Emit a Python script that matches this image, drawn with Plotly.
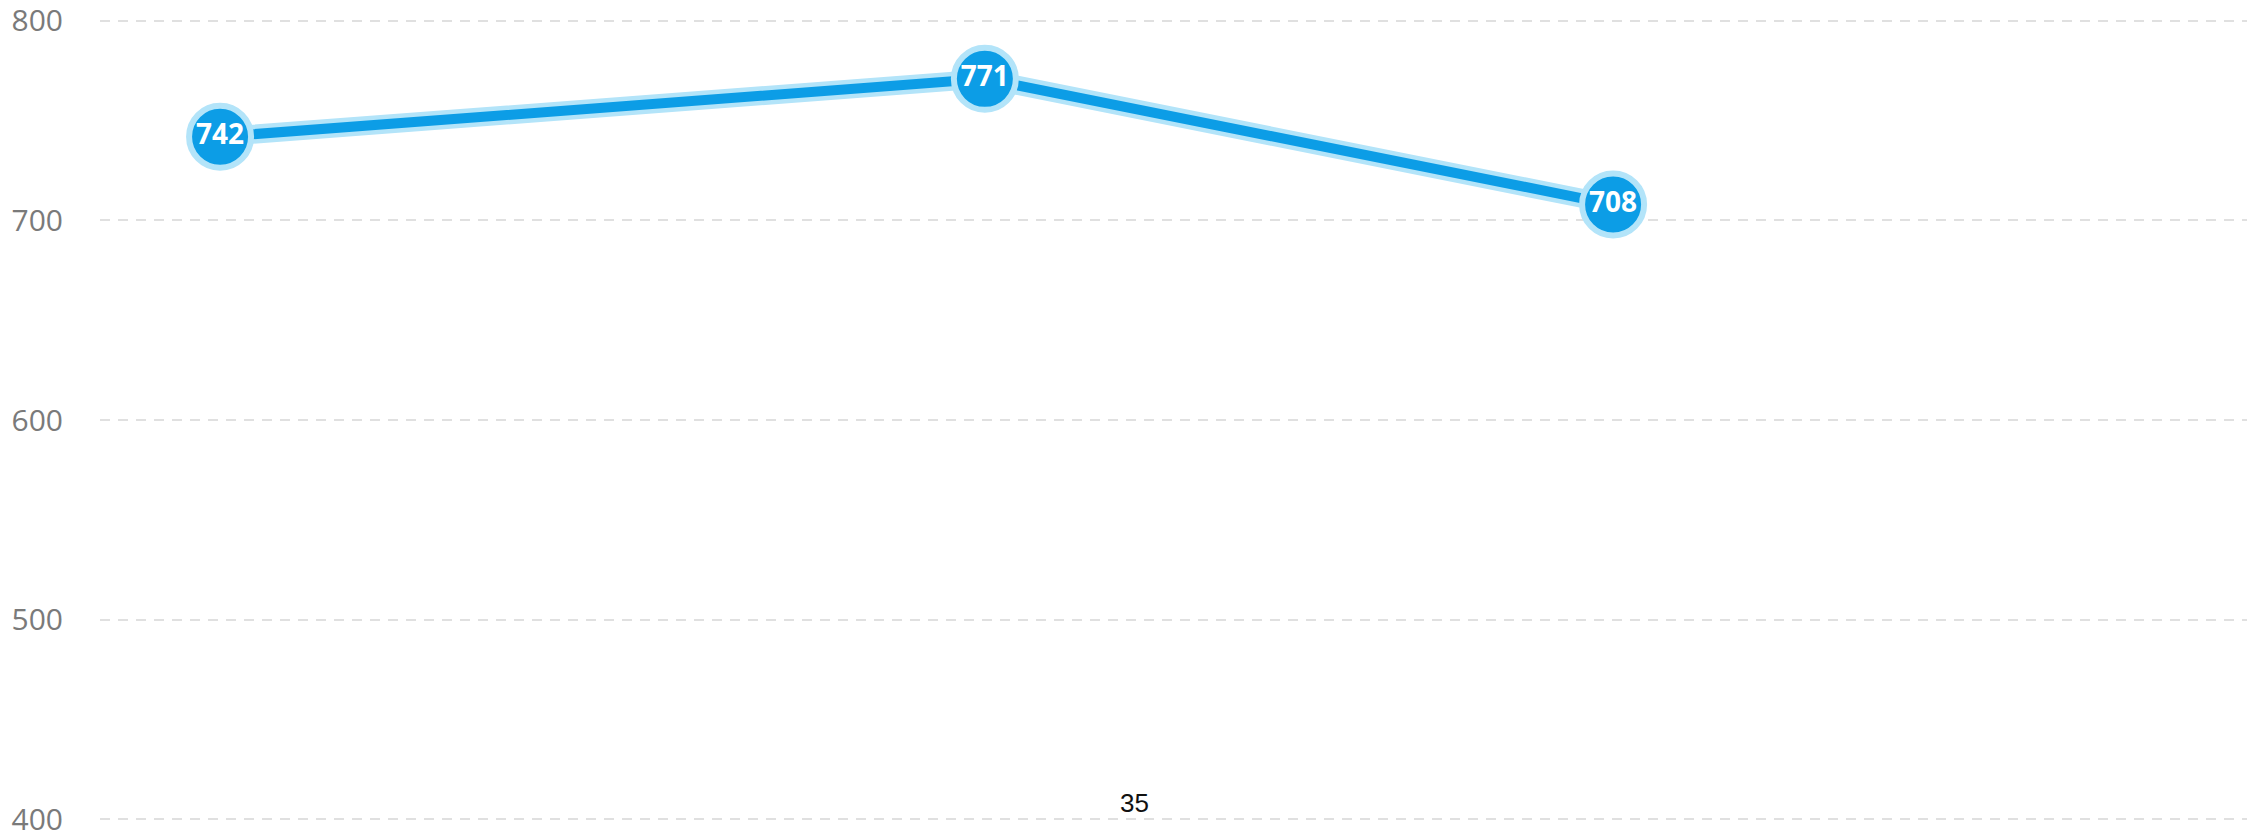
import plotly.graph_objects as go

# Series data
dates = ["2023-03-01", "2023-03-29", "2023-04-21"]
values = [742, 771, 708]
y_ticks = [400, 500, 600, 700, 800]
footer_text = "35"

LINE_BLUE = "#0c9de6"
HALO_BLUE = "#b3e4f9"

fig = go.Figure()

# soft halo under the line
fig.add_trace(go.Scatter(
    x=dates, y=values, mode="lines",
    line=dict(color=HALO_BLUE, width=19),
    hoverinfo="skip", showlegend=False,
))
# main line with labelled markers
fig.add_trace(go.Scatter(
    x=dates, y=values, mode="lines+markers+text",
    line=dict(color=LINE_BLUE, width=10),
    marker=dict(size=62, color=LINE_BLUE, line=dict(color=HALO_BLUE, width=6)),
    text=[str(v) for v in values],
    textposition="middle center",
    textfont=dict(family="Open Sans", size=28, color="white", weight="bold"),
    cliponaxis=False, showlegend=False,
))

fig.add_annotation(
    text=footer_text, xref="paper", yref="paper",
    x=0.4817, y=0.032, xanchor="center", yanchor="middle",
    showarrow=False, font=dict(family="Arial", size=26, color="#111111"),
)

fig.update_layout(
    width=2262, height=837,
    margin=dict(l=100, r=15, t=11, b=8, autoexpand=False),
    paper_bgcolor="white", plot_bgcolor="white",
    xaxis=dict(
        type="date", range=["2023-02-24 14:30", "2023-05-14 05:00"],
        showgrid=False, zeroline=False, showticklabels=False, showline=False,
        automargin=False,
    ),
    yaxis=dict(
        range=[395, 805], tickmode="array", tickvals=y_ticks,
        showgrid=True, gridcolor="#e0e0e0", gridwidth=2, griddash="10px,8px",
        zeroline=False, showline=False, automargin=False,
        tickfont=dict(family="Open Sans", size=30, color="#7a7a7a"),
        ticklabelstandoff=36, ticklabeloverflow="allow",
    ),
)

fig.write_html("out.html")
